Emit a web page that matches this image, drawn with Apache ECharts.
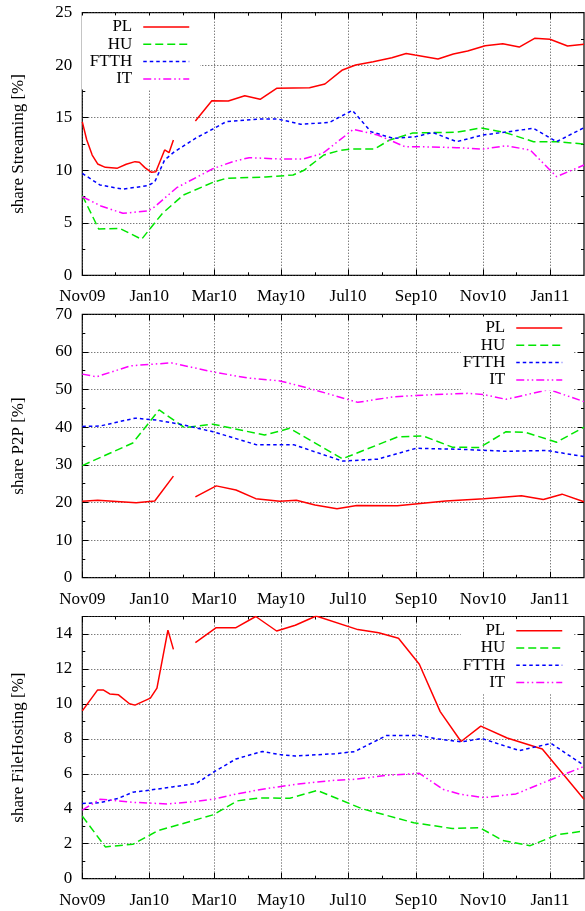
<!DOCTYPE html>
<html><head><meta charset="utf-8">
<script src="https://cdn.jsdelivr.net/npm/echarts@6/dist/echarts.min.js"></script>
<style>html,body{margin:0;padding:0;background:#fff}#c{width:585px;height:911px}</style>
</head><body><div id="c"></div>
<script>
const seriesNames = ['PL', 'HU', 'FTTH', 'IT'];
const panelTitles = ['share Streaming [%]', 'share P2P [%]', 'share FileHosting [%]'];
const majorTicks = ['2009-11-01','2010-01-01','2010-03-01','2010-05-01','2010-07-01','2010-09-01','2010-11-01','2011-01-01'];
const minorTicks = ['2009-12-01','2010-02-01','2010-04-01','2010-06-01','2010-08-01','2010-10-01','2010-12-01'];
const xMin = '2009-11-01', xMax = '2011-02-01';
const yMaxes = [25, 70, 15];
const yIntervals = [5, 10, 2];
const monthNames = ['Jan','Feb','Mar','Apr','May','Jun','Jul','Aug','Sep','Oct','Nov','Dec'];

const streamingPL = [['2009-11-01',14.6],['2009-11-05',12.9],['2009-11-10',11.45],['2009-11-15',10.6],['2009-11-22',10.28],['2009-12-03',10.2],['2009-12-11',10.57],['2009-12-19',10.82],['2009-12-23',10.76],['2009-12-28',10.25],['2010-01-03',9.8],['2010-01-07',9.85],['2010-01-15',11.93],['2010-01-19',11.67],['2010-01-23',12.88],['2010-02-02',null],['2010-02-12',14.69],['2010-02-27',16.62],['2010-03-14',16.6],['2010-03-29',17.1],['2010-04-12',16.76],['2010-04-27',17.8],['2010-05-27',17.86],['2010-06-10',18.21],['2010-06-26',19.55],['2010-07-08',20.02],['2010-07-24',20.34],['2010-08-10',20.72],['2010-08-23',21.12],['2010-08-31',20.97],['2010-09-21',20.59],['2010-10-05',21.07],['2010-10-18',21.35],['2010-11-03',21.86],['2010-11-19',22.05],['2010-12-04',21.73],['2010-12-18',22.56],['2011-01-01',22.47],['2011-01-17',21.83],['2011-02-01',21.99]];
const streamingHU = [['2009-11-01',7.6],['2009-11-16',4.4],['2009-12-05',4.47],['2009-12-25',3.43],['2010-01-13',5.9],['2010-02-01',7.64],['2010-02-28',8.85],['2010-03-12',9.23],['2010-04-17',9.36],['2010-05-12',9.55],['2010-05-22',10.0],['2010-06-09',11.45],['2010-06-24',11.9],['2010-07-04',12.02],['2010-07-25',12.02],['2010-08-08',12.88],['2010-08-29',13.55],['2010-10-08',13.62],['2010-10-30',14.03],['2010-11-21',13.6],['2010-12-17',12.72],['2011-01-07',12.72],['2011-02-01',12.5]];
const streamingFTTH = [['2009-11-01',9.7],['2009-11-17',8.6],['2009-12-08',8.2],['2009-12-31',8.55],['2010-01-06',8.9],['2010-01-15',10.98],['2010-01-24',11.77],['2010-02-12',13.04],['2010-02-28',13.93],['2010-03-12',14.62],['2010-04-11',14.88],['2010-04-28',14.88],['2010-05-19',14.38],['2010-06-14',14.55],['2010-07-05',15.7],['2010-07-22',13.67],['2010-08-11',13.04],['2010-09-01',13.2],['2010-09-16',13.6],['2010-10-08',12.72],['2010-11-01',13.36],['2010-11-22',13.64],['2010-12-17',14.0],['2011-01-07',12.72],['2011-02-01',14.05]];
const streamingIT = [['2009-11-01',7.48],['2009-11-18',6.6],['2009-12-08',5.9],['2009-12-31',6.13],['2010-01-06',6.53],['2010-01-26',8.34],['2010-02-28',10.15],['2010-03-18',10.82],['2010-04-02',11.2],['2010-04-30',11.07],['2010-05-21',11.07],['2010-06-08',11.61],['2010-07-06',13.9],['2010-07-28',13.36],['2010-08-22',12.24],['2010-09-04',12.24],['2010-10-08',12.15],['2010-11-01',12.02],['2010-11-22',12.33],['2010-12-14',11.93],['2011-01-07',9.39],['2011-02-01',10.5]];

const p2pPL = [['2009-11-01',20.3],['2009-11-15',20.6],['2009-12-20',19.9],['2010-01-06',20.4],['2010-01-23',27.0],['2010-02-02',null],['2010-02-12',21.5],['2010-03-03',24.4],['2010-03-21',23.3],['2010-04-08',21.0],['2010-04-30',20.3],['2010-05-15',20.6],['2010-06-01',19.3],['2010-06-21',18.35],['2010-07-09',19.2],['2010-08-15',19.1],['2010-09-28',20.4],['2010-11-02',21.0],['2010-12-06',21.75],['2010-12-26',20.8],['2011-01-12',22.2],['2011-02-01',20.2]];
const p2pHU = [['2009-11-01',29.8],['2009-12-17',35.8],['2010-01-10',44.6],['2010-02-02',39.9],['2010-02-28',40.8],['2010-04-16',37.9],['2010-05-09',39.7],['2010-06-26',31.6],['2010-08-15',37.4],['2010-09-07',37.7],['2010-10-04',34.7],['2010-10-29',34.6],['2010-11-22',38.8],['2010-12-10',38.6],['2011-01-07',36.0],['2011-02-01',40.0]];
const p2pFTTH = [['2009-11-01',40.2],['2009-11-17',40.3],['2009-12-19',42.4],['2010-01-07',41.9],['2010-01-29',40.8],['2010-02-28',38.8],['2010-04-09',35.3],['2010-05-13',35.3],['2010-06-26',31.0],['2010-07-28',31.5],['2010-09-01',34.4],['2010-10-13',34.1],['2010-11-22',33.6],['2010-12-29',33.8],['2011-02-01',32.2]];
const p2pIT = [['2009-11-01',54.1],['2009-11-14',53.4],['2009-12-15',56.3],['2010-01-02',56.7],['2010-01-21',57.1],['2010-02-28',54.7],['2010-03-31',53.1],['2010-04-30',52.3],['2010-05-27',50.3],['2010-07-10',46.6],['2010-08-12',48.1],['2010-09-13',48.6],['2010-10-18',49.0],['2010-11-01',48.7],['2010-11-22',47.4],['2010-12-31',50.0],['2011-02-01',46.8]];

const fhPL = [['2009-11-01',9.6],['2009-11-15',10.8],['2009-11-20',10.8],['2009-11-26',10.57],['2009-12-04',10.52],['2009-12-14',10.01],['2009-12-19',9.93],['2010-01-02',10.33],['2010-01-08',10.9],['2010-01-18',14.22],['2010-01-23',13.12],['2010-02-02',null],['2010-02-12',13.5],['2010-03-03',14.36],['2010-03-21',14.36],['2010-04-08',15.0],['2010-04-27',14.17],['2010-05-14',14.5],['2010-06-02',15.03],['2010-07-10',14.25],['2010-07-29',14.07],['2010-08-16',13.76],['2010-09-04',12.27],['2010-09-23',9.56],['2010-10-12',7.85],['2010-10-30',8.73],['2010-11-23',8.05],['2010-12-25',7.42],['2011-02-01',4.54]];
const fhHU = [['2009-11-01',3.58],['2009-11-22',1.82],['2009-12-17',1.97],['2010-01-09',2.75],['2010-02-28',3.65],['2010-03-22',4.45],['2010-04-11',4.62],['2010-05-09',4.6],['2010-06-03',5.05],['2010-07-14',4.0],['2010-08-30',3.2],['2010-10-04',2.87],['2010-10-29',2.92],['2010-11-19',2.19],['2010-12-14',1.89],['2011-01-08',2.52],['2011-02-01',2.73]];
const fhFTTH = [['2009-11-01',4.3],['2009-11-17',4.35],['2009-12-04',4.6],['2009-12-17',4.95],['2010-01-02',5.07],['2010-01-22',5.25],['2010-02-13',5.45],['2010-02-28',6.08],['2010-03-21',6.85],['2010-04-14',7.28],['2010-04-30',7.1],['2010-05-14',7.02],['2010-06-19',7.15],['2010-07-07',7.27],['2010-08-05',8.19],['2010-09-04',8.2],['2010-09-19',8.01],['2010-10-12',7.83],['2010-10-31',8.02],['2010-12-04',7.33],['2011-01-02',7.74],['2011-02-01',6.48]];
const fhIT = [['2009-11-01',3.92],['2009-11-17',4.54],['2009-11-26',4.5],['2009-12-17',4.37],['2010-01-17',4.28],['2010-02-10',4.4],['2010-02-28',4.55],['2010-03-24',4.88],['2010-04-17',5.15],['2010-05-17',5.42],['2010-06-19',5.63],['2010-07-08',5.69],['2010-08-06',5.92],['2010-09-04',6.03],['2010-09-26',5.1],['2010-10-12',4.82],['2010-11-02',4.64],['2010-12-01',4.85],['2010-12-29',5.57],['2011-02-01',6.42]];

const panelData = [
  [streamingPL, streamingHU, streamingFTTH, streamingIT],
  [p2pPL, p2pHU, p2pFTTH, p2pIT],
  [fhPL, fhHU, fhFTTH, fhIT]
];

const FONT = 'Liberation Serif';
const colors = ['#ff0000', '#00e600', '#0000ff', '#ff00ff'];
const dashes = ['solid', [8, 4], [3.5, 3], [8, 3, 1.5, 3, 1.5, 3]];
const gridBoxes = [
  {top: 12.7, height: 262.6},
  {top: 314.3, height: 263.4},
  {top: 616.5, height: 262.2}
];
const legendBoxes = [
  {right: 385, top: 15.5, padding: [3, 10, 2, 8]},
  {right: 12, top: 316.5, padding: [3, 10, 2, 2]},
  {right: 12, top: 619.2, padding: [3, 10, 2, 2]}
];

function ts(s) { const p = s.split('-').map(Number); return Date.UTC(p[0], p[1] - 1, p[2]); }
function fmtMonth(v) {
  const d = new Date(v);
  return monthNames[d.getUTCMonth()] + String(d.getUTCFullYear()).slice(2);
}
const majorTs = majorTicks.map(ts), minorTs = minorTicks.map(ts);
const gridLineStyle = {color: '#444', width: 1, type: [1, 2]};

const grid = [], xAxis = [], yAxis = [], series = [], legend = [];
for (let g = 0; g < 3; g++) {
  grid.push({left: 82.3, right: 1, top: gridBoxes[g].top, height: gridBoxes[g].height,
    show: true, borderColor: '#000', borderWidth: 1.2, backgroundColor: 'transparent'});
  const base = {type: 'value', gridIndex: g, min: ts(xMin), max: ts(xMax)};
  xAxis.push(Object.assign({}, base, {
    position: 'bottom',
    axisLine: {show: false},
    axisTick: {show: true, inside: true, length: 6, customValues: majorTs, lineStyle: {color: '#000', width: 1}},
    axisLabel: {show: true, customValues: majorTs, formatter: fmtMonth, fontFamily: FONT, fontSize: 17, color: '#000', margin: 13, hideOverlap: false},
    splitLine: {show: true, lineStyle: gridLineStyle}
  }));
  xAxis.push(Object.assign({}, base, {
    position: 'bottom',
    axisLine: {show: false},
    axisTick: {show: true, inside: true, length: 3, customValues: minorTs, lineStyle: {color: '#000', width: 1}},
    axisLabel: {show: false}, splitLine: {show: false}
  }));
  xAxis.push(Object.assign({}, base, {
    position: 'top',
    axisLine: {show: false},
    axisTick: {show: true, inside: true, length: 6, customValues: majorTs, lineStyle: {color: '#000', width: 1}},
    axisLabel: {show: false}, splitLine: {show: false}
  }));
  xAxis.push(Object.assign({}, base, {
    position: 'top',
    axisLine: {show: false},
    axisTick: {show: true, inside: true, length: 3, customValues: minorTs, lineStyle: {color: '#000', width: 1}},
    axisLabel: {show: false}, splitLine: {show: false}
  }));
  const ybase = {type: 'value', gridIndex: g, min: 0, max: yMaxes[g], interval: yIntervals[g]};
  yAxis.push(Object.assign({}, ybase, {
    position: 'left',
    name: panelTitles[g], nameLocation: 'middle', nameGap: 55,
    nameTextStyle: {fontFamily: FONT, fontSize: 17, color: '#000'},
    axisLine: {show: false},
    axisTick: {show: true, inside: true, length: 6, lineStyle: {color: '#000', width: 1}},
    minorTick: {show: true, splitNumber: 2, length: 3, lineStyle: {color: '#000', width: 1}},
    axisLabel: {fontFamily: FONT, fontSize: 17, color: '#000', margin: 10, showMaxLabel: g !== 2},
    splitLine: {show: true, lineStyle: gridLineStyle}
  }));
  yAxis.push(Object.assign({}, ybase, {
    position: 'right',
    axisLine: {show: false},
    axisTick: {show: true, inside: true, length: 6, lineStyle: {color: '#000', width: 1}},
    minorTick: {show: true, splitNumber: 2, length: 3, lineStyle: {color: '#000', width: 1}},
    axisLabel: {show: false}, splitLine: {show: false}
  }));
  for (let s = 0; s < 4; s++) {
    series.push({
      type: 'line', name: seriesNames[s], xAxisIndex: 4 * g, yAxisIndex: 2 * g,
      data: panelData[g][s].map(function (p) { return [ts(p[0]), p[1]]; }),
      symbol: 'none', showSymbol: false, connectNulls: false,
      color: colors[s], itemStyle: {color: colors[s]},
      lineStyle: {color: colors[s], width: 1.5, type: dashes[s]},
      emphasis: {disabled: true}, animation: false
    });
  }
  legend.push({
    data: seriesNames, orient: 'vertical', align: 'right',
    right: legendBoxes[g].right, top: legendBoxes[g].top, padding: legendBoxes[g].padding,
    itemWidth: 46, itemHeight: 12, itemGap: 0.3,
    backgroundColor: '#fff', selectedMode: false,
    itemStyle: {opacity: 0},
    lineStyle: {width: 1.5},
    textStyle: {fontFamily: FONT, fontSize: 17, color: '#000', padding: [0, 6, 0, 0]}
  });
}

const chart = echarts.init(document.getElementById('c'), null, {renderer: 'canvas'});
chart.setOption({animation: false, backgroundColor: '#fff', grid, xAxis, yAxis, series, legend, tooltip: {show: false}});
</script></body></html>
